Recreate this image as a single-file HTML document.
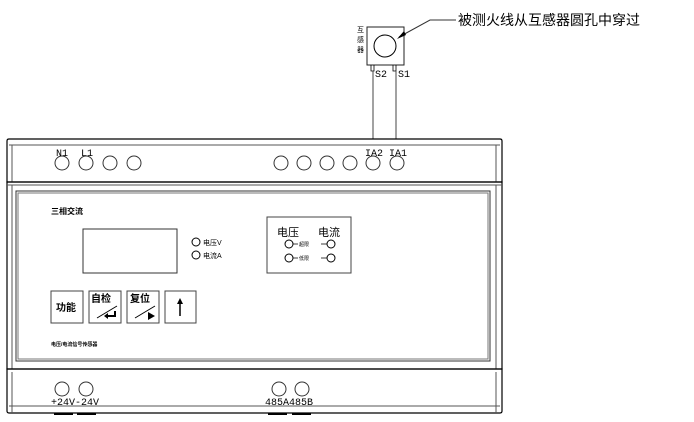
<!DOCTYPE html>
<html><head><meta charset="utf-8"><style>
html,body{margin:0;padding:0;background:#fff;}
svg{display:block;}
text{font-family:"Liberation Sans","Noto Sans CJK SC",sans-serif;fill:#000;}
.m{font-family:"Liberation Mono","Noto Sans CJK SC",monospace;}
</style></head><body>
<svg width="694" height="422" viewBox="0 0 694 422" xmlns="http://www.w3.org/2000/svg" fill="none" stroke="#000" stroke-width="1">
<!-- sensor -->
<rect x="367" y="27" width="37" height="38" stroke="#222"/>
<circle cx="385" cy="46" r="11"/>
<path d="M371 65v6h3v-6M393 65v6h3v-6" stroke-width="0.8"/>
<line x1="373" y1="71" x2="373" y2="139" stroke="#444"/>
<line x1="396" y1="71" x2="396" y2="139" stroke="#444"/>
<text x="375" y="77" font-size="10" class="m" stroke="none">S2</text>
<text x="398" y="77" font-size="10" class="m" stroke="none">S1</text>
<text x="357" y="32" font-size="7" stroke="none">互</text>
<text x="357" y="42" font-size="7" stroke="none">感</text>
<text x="357" y="52" font-size="7" stroke="none">器</text>
<polyline points="399,37 430,20 456,20" stroke="#333"/>
<polygon points="397,39 404,31 406,35" fill="#000" stroke="none"/>
<text x="458" y="25" font-size="14" stroke="none">被测火线从互感器圆孔中穿过</text>
<!-- housing -->
<path d="M7 141 Q7 139 9 139 H500 Q502 139 502 141 V182 H7 Z" stroke-width="1.2"/>
<line x1="9" y1="145" x2="500" y2="145" stroke="#555"/>
<line x1="12" y1="145" x2="12" y2="182" stroke="#555"/>
<line x1="496" y1="145" x2="496" y2="182" stroke="#555"/>
<rect x="7" y="182" width="495" height="187" stroke-width="1.2"/>
<line x1="7" y1="185" x2="502" y2="185" stroke="#555"/>
<line x1="12" y1="185" x2="12" y2="369" stroke="#555"/>
<line x1="496" y1="185" x2="496" y2="369" stroke="#555"/>
<rect x="16" y="191" width="474" height="170" stroke="#333"/>
<rect x="18" y="193" width="470" height="166" stroke="#777"/>
<path d="M7 369 H502 V411 Q502 413 500 413 H9 Q7 413 7 411 Z" stroke-width="1.2"/>
<line x1="12" y1="372" x2="12" y2="413" stroke="#555"/>
<line x1="496" y1="372" x2="496" y2="413" stroke="#555"/>
<line x1="9" y1="406" x2="500" y2="406" stroke="#555"/>
<path d="M54 414h19M77 414h19M268 414h19M292 414h19" stroke-width="2"/>
<!-- top terminals -->
<g stroke="#333">
<circle cx="62" cy="163" r="7"/><circle cx="86" cy="163" r="7"/><circle cx="110" cy="163" r="7"/><circle cx="134" cy="163" r="7"/>
<circle cx="281" cy="163" r="7"/><circle cx="304" cy="163" r="7"/><circle cx="327" cy="163" r="7"/><circle cx="350" cy="163" r="7"/><circle cx="373" cy="163" r="7"/><circle cx="397" cy="163" r="7"/>
</g>
<g class="m" font-size="10" stroke="none">
<text x="56" y="156" class="m" stroke="none">N1</text><text x="81" y="156" class="m" stroke="none">L1</text>
<text x="365" y="156" class="m" stroke="none">IA2</text><text x="389" y="156" class="m" stroke="none">IA1</text>
</g>
<!-- panel -->
<text x="51" y="214" font-size="8" font-weight="bold" stroke="none">三相交流</text>
<rect x="83" y="229" width="94" height="44" stroke="#333"/>
<circle cx="196" cy="242" r="4"/><circle cx="196" cy="255" r="4"/>
<text x="203" y="245" font-size="7" stroke="none">电压V</text>
<text x="203" y="258" font-size="7" stroke="none">电流A</text>
<rect x="267" y="217" width="84" height="56" stroke="#444"/>
<text x="277" y="236" font-size="11" stroke="none">电压</text>
<text x="318" y="236" font-size="11" stroke="none">电流</text>
<circle cx="289" cy="244" r="4"/><circle cx="331" cy="244" r="4"/>
<circle cx="289" cy="258" r="4"/><circle cx="331" cy="258" r="4"/>
<path d="M293 244h5M321 244h6M293 258h5M321 258h6" stroke-width="0.8"/>
<text x="299" y="246" font-size="5" stroke="none">超限</text>
<text x="299" y="260" font-size="5" stroke="none">低限</text>
<!-- buttons -->
<g stroke="#444">
<rect x="51" y="291" width="32" height="32"/><rect x="89" y="291" width="32" height="32"/>
<rect x="127" y="291" width="32" height="32"/><rect x="165" y="291" width="31" height="32"/>
</g>
<text x="56" y="311" font-size="10" font-weight="bold" stroke="none">功能</text>
<text x="91" y="302" font-size="10" font-weight="bold" stroke="none">自检</text>
<text x="130" y="302" font-size="10" font-weight="bold" stroke="none">复位</text>
<path d="M97 318L117 306M135 318L155 306"/>
<path d="M115 311v5h-8" stroke-width="2"/><polygon points="104,316 108,313 108,319" fill="#000" stroke="none"/>
<polygon points="148,312 155,316 148,320" fill="#000" stroke="none"/>
<line x1="180" y1="302" x2="180" y2="316" stroke-width="1.5"/><polygon points="177,304 180,298 183,304" fill="#000" stroke="none"/>
<text x="51" y="346" font-size="5" font-weight="bold" stroke="none">电压/电流信号传感器</text>
<!-- bottom terminals -->
<g stroke="#333">
<circle cx="62" cy="389" r="7"/><circle cx="86" cy="389" r="7"/><circle cx="279" cy="389" r="7"/><circle cx="302" cy="389" r="7"/>
</g>
<text x="51" y="405" font-size="10" class="m" stroke="none">+24V-24V</text>
<text x="265" y="405" font-size="10" class="m" stroke="none">485A485B</text>
</svg>
</body></html>
